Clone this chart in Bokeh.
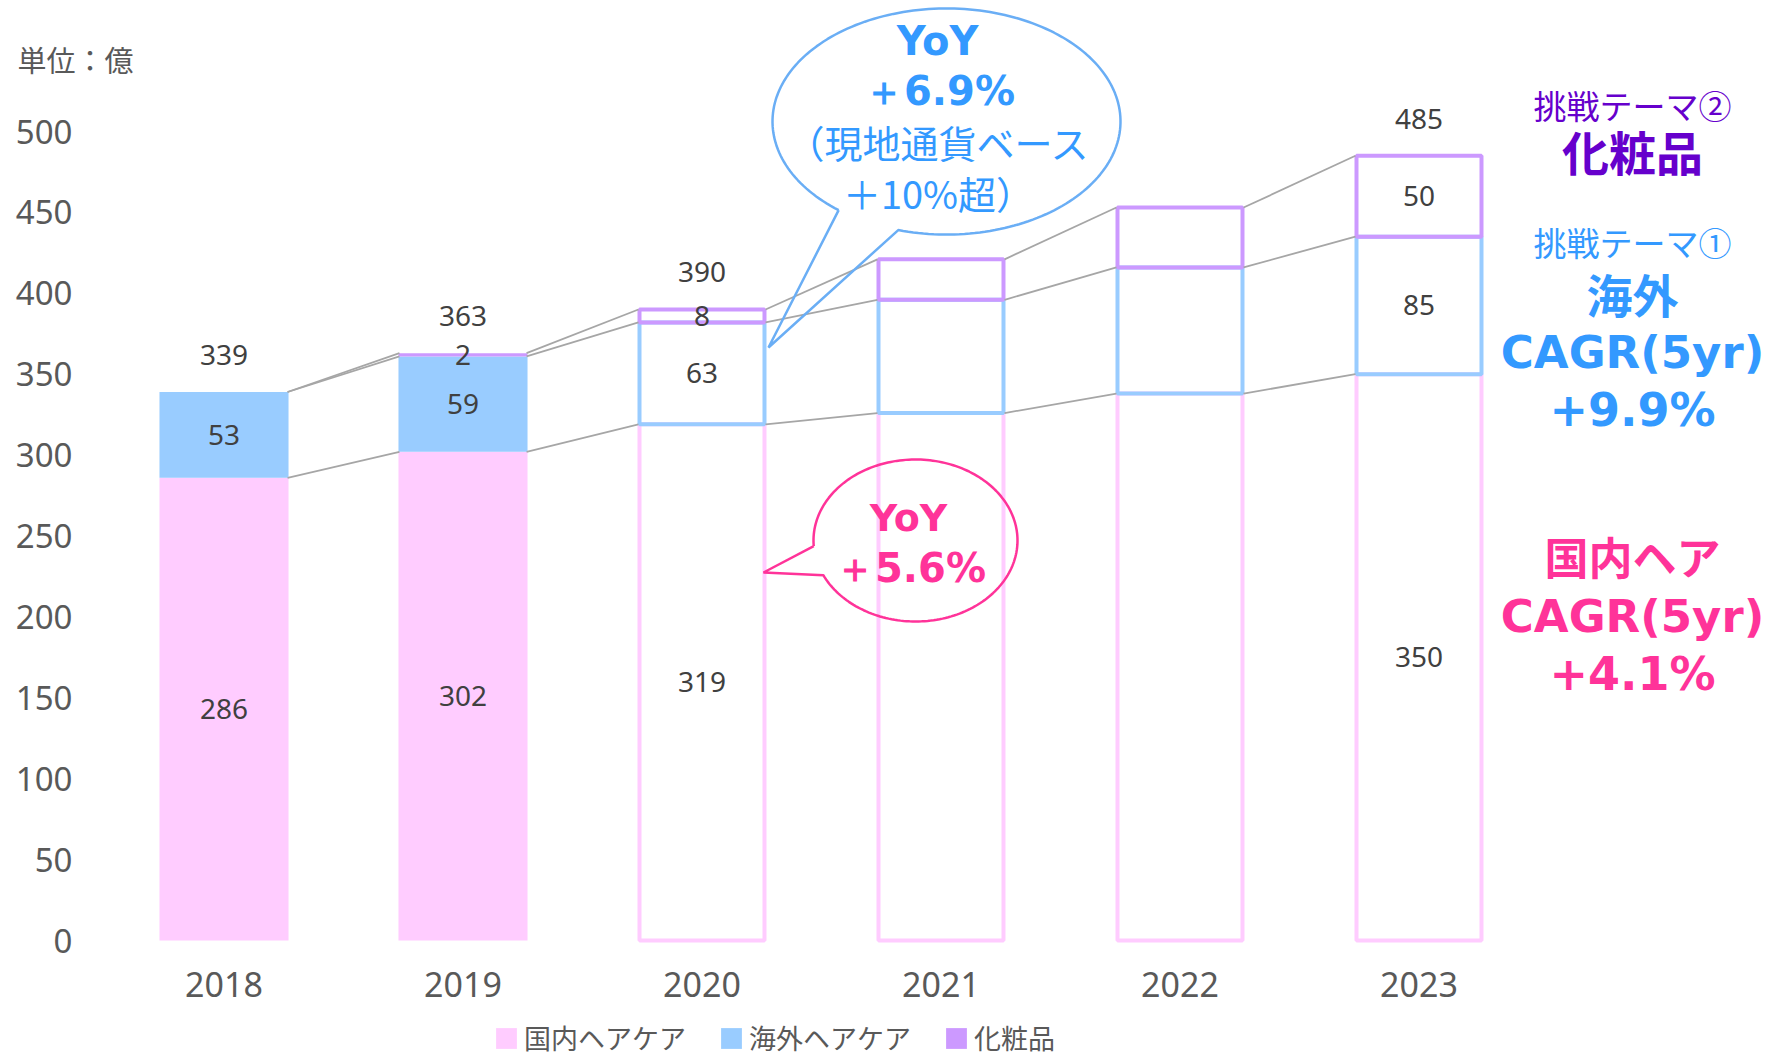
import numpy as np
from bokeh.plotting import figure
from bokeh.models import Range1d, FixedTicker, ColumnDataSource, Label, Legend, LegendItem
from bokeh.core.properties import value
from bokeh.embed import file_html
from bokeh.resources import INLINE

# ---------------- data ----------------
years = ["2018", "2019", "2020", "2021", "2022", "2023"]
domestic = [286, 302, 319, 326, 338, 350]     # 国内ヘアケア
overseas = [53, 59, 63, 70, 78, 85]           # 海外ヘアケア
cosmetics = [0, 2, 8, 25, 37, 50]             # 化粧品
is_actual = [True, True, False, False, False, False]
show_labels = [True, True, True, False, False, True]
y_ticks = [0, 50, 100, 150, 200, 250, 300, 350, 400, 450, 500]
series_names = ["国内ヘアケア", "海外ヘアケア", "化粧品"]
unit_text = "単位：億"
blue_callout = ["YoY", "＋6.9%", "（現地通貨ベース", "＋10%超）"]
pink_callout = ["YoY", "＋5.6%"]
theme2 = ["挑戦テーマ②", "化粧品"]
theme1 = ["挑戦テーマ①", "海外", "CAGR(5yr)", "+9.9%"]
dom_note = ["国内ヘア", "CAGR(5yr)", "+4.1%"]

# ---------------- layout (frame = whole canvas) ----------------
W, H = 1771, 1059
AX_LEFT = 104      # pixel x of the category band start
AX_ZERO = 940      # pixel y of value 0
PX_X = 239.0       # pixels per category
PX_Y = 1.618       # pixels per unit
X0 = -0.5 - AX_LEFT / PX_X
X1 = X0 + W / PX_X
Y0 = -(H - AX_ZERO) / PX_Y
Y1 = AX_ZERO / PX_Y


def dx(px):
    return X0 + px / PX_X


def dy(py):
    return (AX_ZERO - py) / PX_Y


C_DOM = "#FFCCFF"
C_OVS = "#99CCFF"
C_COS = "#CC99FF"
BLUE = "#3399FF"
PINK = "#FF3399"
PURPLE = "#6600CC"
GREY = "#595959"

p = figure(width=W, height=H, output_backend="svg", toolbar_location=None,
           x_range=Range1d(X0, X1), y_range=Range1d(Y0, Y1), min_border=0)
p.outline_line_color = None
p.xgrid.grid_line_color = None
p.ygrid.grid_line_color = None
p.background_fill_color = "white"
p.border_fill_color = "white"

# axes (drawn at fixed data locations inside the frame)
p.yaxis.fixed_location = -0.5
p.yaxis.ticker = FixedTicker(ticks=y_ticks)
p.yaxis.axis_line_color = None
p.yaxis.major_tick_line_color = None
p.yaxis.minor_tick_line_color = None
p.yaxis.major_tick_out = 0
p.yaxis.major_tick_in = 0
p.yaxis.major_label_standoff = 32
p.yaxis.major_label_text_font = "Noto Sans"
p.yaxis.major_label_text_font_size = "33px"
p.yaxis.major_label_text_color = GREY

xs = list(range(len(years)))
p.xaxis.fixed_location = 0
p.xaxis.ticker = FixedTicker(ticks=xs)
p.xaxis.major_label_overrides = {i: y for i, y in zip(xs, years)}
p.xaxis.axis_line_color = None
p.xaxis.major_tick_line_color = None
p.xaxis.minor_tick_line_color = None
p.xaxis.major_tick_out = 0
p.xaxis.major_tick_in = 0
p.xaxis.major_label_standoff = 31
p.xaxis.major_label_text_font = "Noto Sans"
p.xaxis.major_label_text_font_size = "34px"
p.xaxis.major_label_text_color = GREY

d = np.array(domestic, dtype=float)
o = np.array(overseas, dtype=float)
c = np.array(cosmetics, dtype=float)
lvl1 = d
lvl2 = d + o
tot = d + o + c
xarr = np.array(xs, dtype=float)
act = np.array(is_actual)

# filled (actual) bars
src_a = ColumnDataSource(dict(x=xarr[act], d=lvl1[act], o=lvl2[act], t=tot[act]))
BW_F = 0.54
r_dom = p.vbar(x="x", bottom=0, top="d", width=BW_F, source=src_a, fill_color=C_DOM, line_color=None)
r_ovs = p.vbar(x="x", bottom="d", top="o", width=BW_F, source=src_a, fill_color=C_OVS, line_color=None)
r_cos = p.vbar(x="x", bottom="o", top="t", width=BW_F, source=src_a, fill_color=C_COS, line_color=None)

# outline (plan) bars
src_p = ColumnDataSource(dict(x=xarr[~act], d=lvl1[~act], o=lvl2[~act], t=tot[~act]))
BW_O = 0.523
p.vbar(x="x", bottom=0, top="d", width=BW_O, source=src_p, fill_color=None, line_color=C_DOM, line_width=4)
p.vbar(x="x", bottom="d", top="o", width=BW_O, source=src_p, fill_color=None, line_color=C_OVS, line_width=4)
p.vbar(x="x", bottom="o", top="t", width=BW_O, source=src_p, fill_color=None, line_color=C_COS, line_width=4)

# series connector lines
hw = 0.266
for lv in (lvl1, lvl2, tot):
    p.segment(x0=xarr[:-1] + hw, y0=lv[:-1], x1=xarr[1:] - hw, y1=lv[1:],
              line_color="#A6A6A6", line_width=1.8)

# data labels
lx, ly, lt = [], [], []
tx, ty, tt = [], [], []
for i in xs:
    if not show_labels[i]:
        continue
    lx += [i, i]
    ly += [d[i] / 2, d[i] + o[i] / 2]
    lt += [str(domestic[i]), str(overseas[i])]
    if c[i] > 0:
        lx.append(i)
        ly.append(lvl2[i] + c[i] / 2)
        lt.append(str(cosmetics[i]))
    tx.append(i)
    ty.append(tot[i])
    tt.append(str(int(tot[i])))
p.text(x=lx, y=ly, text=lt, text_font=value("Noto Sans"), text_font_size="28px",
       text_color="#404040", text_align="center", text_baseline="middle")
p.text(x=tx, y=ty, text=tt, text_font=value("Noto Sans"), text_font_size="28px",
       text_color="#404040", text_align="center", text_baseline="middle", y_offset=-37)


# callout outlines (ellipse with a pointer)
def callout(cx, cy, a, b, gap_lo, gap_hi, tip, color):
    t = np.radians(np.linspace(gap_hi, gap_lo + 360, 200))
    px = list(cx + a * np.cos(t)) + [tip[0], cx + a * np.cos(np.radians(gap_hi))]
    py = list(cy + b * np.sin(t)) + [tip[1], cy + b * np.sin(np.radians(gap_hi))]
    p.line([dx(v) for v in px], [dy(v) for v in py], line_color=color, line_width=2.5)


callout(946, 121, 174, 113, 106.1, 128.3, (768, 347), "#6AAEF5")
callout(915, 540, 102, 81, 154.6, 176.0, (763, 572), PINK)


def lab(px, py, txt, size, color, font="Noto Sans CJK JP", style="normal", align="center"):
    p.add_layout(Label(x=dx(px), y=dy(py), text=txt, text_align=align, text_baseline="middle",
                       text_font=font, text_font_size=f"{size}px", text_font_style=style,
                       text_color=color))


lab(17, 58, unit_text, 29, GREY, align="left")

lab(937, 40, blue_callout[0], 40, BLUE, font="DejaVu Sans", style="bold")
lab(939, 90, blue_callout[1], 40, BLUE, font="DejaVu Sans", style="bold")
lab(938, 141, blue_callout[2], 38, BLUE)
lab(938, 192, blue_callout[3], 38, BLUE)

lab(908, 517, pink_callout[0], 38, PINK, font="DejaVu Sans", style="bold")
lab(910, 567, pink_callout[1], 40, PINK, font="DejaVu Sans", style="bold")

SX = 1632
lab(SX, 104, theme2[0], 33, PURPLE)
lab(SX, 150, theme2[1], 47, PURPLE, style="bold")
lab(SX, 241, theme1[0], 33, BLUE)
lab(SX, 292, theme1[1], 46, BLUE, style="bold")
lab(SX, 352, theme1[2], 45, BLUE, font="DejaVu Sans", style="bold")
lab(SX, 409, theme1[3], 46, BLUE, font="DejaVu Sans", style="bold")
lab(SX, 555, dom_note[0], 44, PINK, style="bold")
lab(SX, 616, dom_note[1], 45, PINK, font="DejaVu Sans", style="bold")
lab(SX, 673, dom_note[2], 46, PINK, font="DejaVu Sans", style="bold")

# legend
legend = Legend(items=[LegendItem(label=series_names[0], renderers=[r_dom]),
                       LegendItem(label=series_names[1], renderers=[r_ovs]),
                       LegendItem(label=series_names[2], renderers=[r_cos])],
                orientation="horizontal", location=(493, 2),
                padding=0, margin=0, spacing=32, label_standoff=5,
                glyph_width=26, glyph_height=26,
                label_text_font="Noto Sans CJK JP", label_text_font_size="27px",
                label_text_color=GREY, border_line_color=None, background_fill_color=None)
p.add_layout(legend, "center")

open("out.html", "w").write(file_html(p, INLINE))
